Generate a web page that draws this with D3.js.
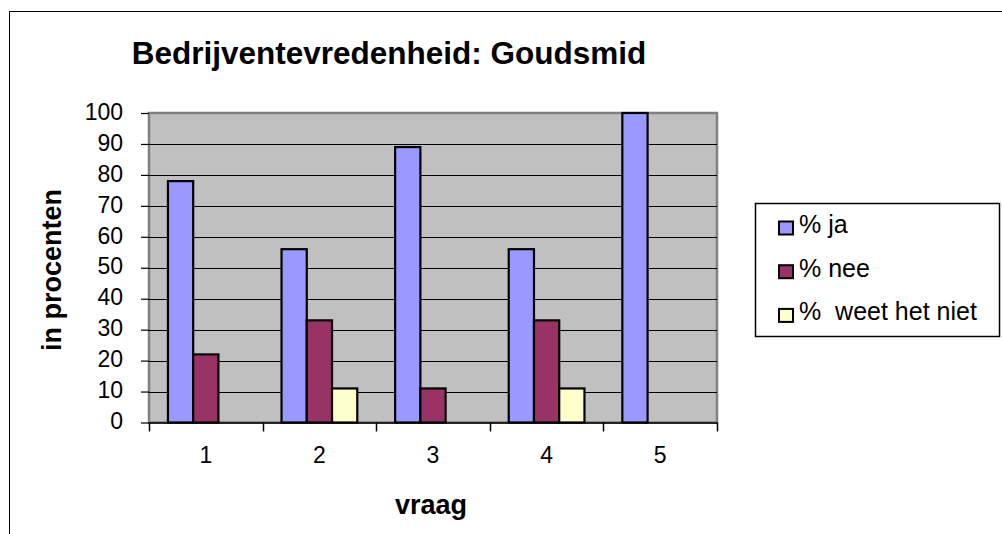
<!DOCTYPE html>
<html><head><meta charset="utf-8">
<script src="https://cdn.jsdelivr.net/npm/d3@7"></script>
<style>html,body{margin:0;padding:0;background:#fff;overflow:hidden}</style>
</head><body>
<svg id="c" width="1002" height="534"></svg>
<script>
const categories = ["1","2","3","4","5"];
const seriesNames = ["% ja","% nee","%  weet het niet"];
const ja = [78,56,89,56,100];
const nee = [22,33,11,33,0];
const weetNiet = [0,11,0,11,0];
const yTicks = [0,10,20,30,40,50,60,70,80,90,100];
const colors = ["#9999FF","#993366","#FFFFCC"];
const series = [ja, nee, weetNiet];

const svg = d3.select("#c");
const font = "'Liberation Sans', Arial, sans-serif";
const L = 149, R = 717, T = 113, B = 422.5;

// outer chart frame (cropped at right/bottom)
svg.append("rect").attr("x",9.5).attr("y",11.5).attr("width",1100).attr("height",600)
  .attr("fill","#fff").attr("stroke","#000").attr("stroke-width",1);

const x = d3.scaleBand().domain(categories).range([L,R]).paddingInner(0).paddingOuter(0);
const bw = x.bandwidth()/4.5;
const y = d3.scaleLinear().domain([0,100]).range([B,T]);

svg.append("rect").attr("x",L).attr("y",T).attr("width",R-L).attr("height",B-T)
  .attr("fill","#C0C0C0").attr("stroke","#808080").attr("stroke-width",2.5);

// gridlines
svg.append("g").selectAll("line").data(yTicks.filter(d=>d>0 && d<100)).join("line")
  .attr("x1",L).attr("x2",R).attr("y1",d=>Math.round(y(d))+0.5).attr("y2",d=>Math.round(y(d))+0.5)
  .attr("stroke","#000").attr("stroke-width",1);

// bars
series.forEach((s,i)=>{
  svg.append("g").selectAll("rect").data(s.map((v,j)=>({v,c:categories[j]})).filter(d=>d.v>0)).join("rect")
    .attr("x",d=>x(d.c)+bw*0.75+i*bw).attr("y",d=>y(d.v)).attr("width",bw).attr("height",d=>B-y(d.v))
    .attr("fill",colors[i]).attr("stroke","#000").attr("stroke-width",2.2);
});

// y axis
const ya = svg.append("g").attr("transform",`translate(${L},0)`)
  .call(d3.axisLeft(y).tickValues(yTicks).tickSize(8).tickPadding(18));
ya.select(".domain").remove();
ya.selectAll(".tick line").attr("stroke","#000").attr("stroke-width",1.2);
ya.selectAll("text").attr("font-family",font).attr("font-size",23).attr("fill","#000").attr("dy","0.27em");

// x axis
const xa = svg.append("g").attr("transform",`translate(0,${B})`)
  .call(d3.axisBottom(x).tickSize(0).tickPadding(24));
xa.select(".domain").attr("stroke","#000").attr("stroke-width",1.5);
xa.selectAll("text").attr("font-family",font).attr("font-size",23).attr("fill","#000");
svg.append("g").selectAll("line").data(categories.concat(["end"])).join("line")
  .attr("x1",(d,i)=>Math.round(L+i*x.bandwidth())+0.5).attr("x2",(d,i)=>Math.round(L+i*x.bandwidth())+0.5)
  .attr("y1",B).attr("y2",B+9).attr("stroke","#000").attr("stroke-width",1.5);

// titles
svg.append("text").attr("x",389).attr("y",64).attr("text-anchor","middle")
  .attr("font-family",font).attr("font-weight","bold").attr("font-size",31.5).text("Bedrijventevredenheid: Goudsmid");
svg.append("text").attr("x",431).attr("y",514).attr("text-anchor","middle")
  .attr("font-family",font).attr("font-weight","bold").attr("font-size",27).text("vraag");
svg.append("text").attr("transform","translate(61,270) rotate(-90)").attr("text-anchor","middle")
  .attr("font-family",font).attr("font-weight","bold").attr("font-size",27).text("in procenten");

// legend
svg.append("rect").attr("x",755.5).attr("y",203.5).attr("width",244).attr("height",133)
  .attr("fill","#fff").attr("stroke","#000").attr("stroke-width",1.5);
const lg = svg.append("g").selectAll("g").data(seriesNames).join("g")
  .attr("transform",(d,i)=>`translate(779,${228+i*43.7})`);
lg.append("rect").attr("x",0).attr("y",-6.5).attr("width",14).attr("height",13)
  .attr("fill",(d,i)=>colors[i]).attr("stroke","#000").attr("stroke-width",2);
lg.append("text").attr("x",20).attr("y",5).attr("font-family",font).attr("font-size",25)
  .style("white-space","pre").text(d=>d);
</script>
</body></html>
